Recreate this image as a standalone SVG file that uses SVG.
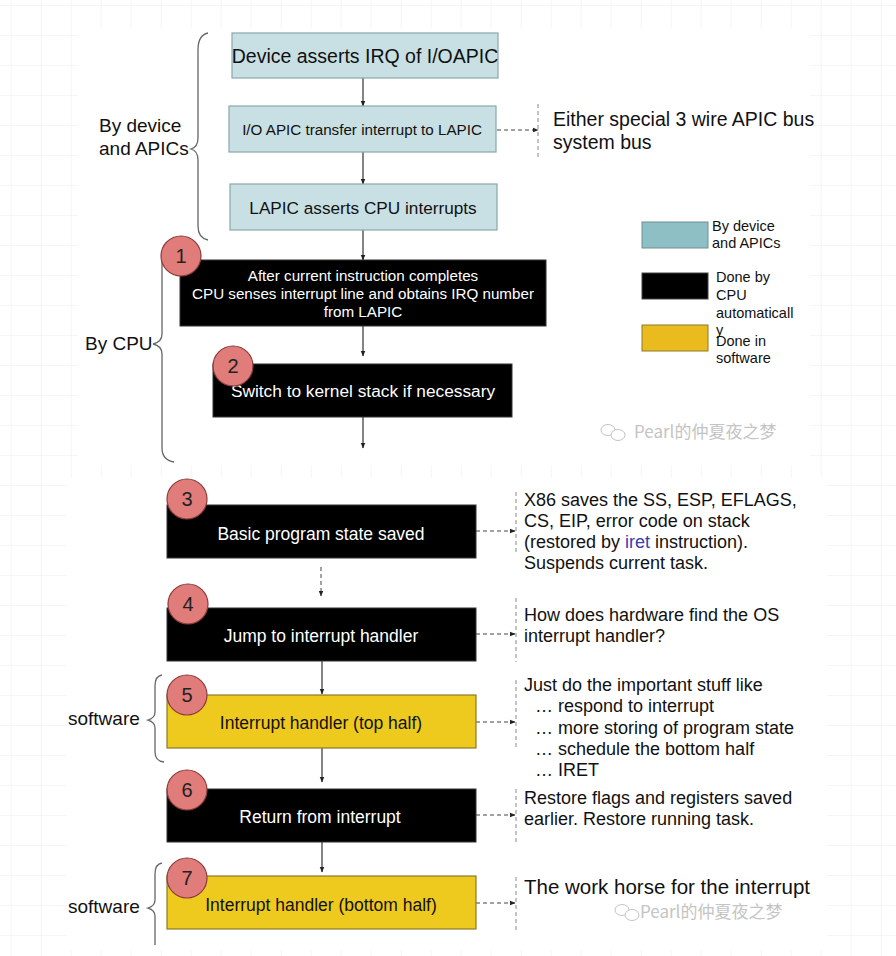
<svg xmlns="http://www.w3.org/2000/svg" width="896" height="956" viewBox="0 0 896 956">
<defs>
<pattern id="grid" x="10.7" y="5" width="30" height="30" patternUnits="userSpaceOnUse">
<path d="M0,0 H30 M0,0 V30" fill="none" stroke="#ebebeb" stroke-width="1"/>
</pattern>
<marker id="ah" viewBox="0 0 10 10" refX="9" refY="5" markerWidth="6" markerHeight="6" orient="auto" markerUnits="userSpaceOnUse">
<path d="M0,1 L10,5 L0,9 z" fill="#222"/>
</marker>
</defs>
<style>
text{font-family:"Liberation Sans",Arial,sans-serif;}
.teal{fill:#c8e0e3;stroke:#8aa7aa;stroke-width:1.2;}
.blk{fill:#000;stroke:#333;stroke-width:1;}
.yel{fill:#eec91e;stroke:#8c7a28;stroke-width:1.2;}
.num{fill:#e07c7a;stroke:#8b3b3b;stroke-width:1.2;}
.numt{font-size:20px;fill:#222;text-anchor:middle;}
.wt{fill:#fff;text-anchor:middle;}
.bt{fill:#111;text-anchor:middle;}
.side{font-size:18px;fill:#111;}
.lbl{font-size:19px;fill:#111;}
.leg{font-size:14.5px;fill:#111;}
.brace{fill:none;stroke:#666;stroke-width:1.3;}
.con{fill:none;stroke:#333;stroke-width:1.2;}
.dash{fill:none;stroke:#444;stroke-width:1;stroke-dasharray:4,3;}
.vdash{fill:none;stroke:#888;stroke-width:1;stroke-dasharray:4,3;}
.wm{font-family:"Noto Sans CJK SC","Liberation Sans",sans-serif;font-size:17px;fill:#c4c4c4;}
</style>
<rect width="896" height="956" fill="#fff"/>
<rect width="896" height="956" fill="url(#grid)"/>
<rect x="78" y="28" width="732" height="437" fill="#fff"/>
<rect x="67" y="478" width="760" height="472" fill="#fff"/>

<g id="braces">
<path class="brace" d="M208,33 Q198,35 198,50 L198,138 Q198,147 191,149 Q198,151 198,160 L198,226 Q198,238 208,240"/>
<path class="brace" d="M172,240 Q162,242 162,256 L162,334 Q162,342 153,344 Q162,346 162,354 L162,448 Q162,460 174,462"/>
<path class="brace" d="M162,675 Q155,676 155,686 L155,712 Q155,718 148,720 Q155,722 155,728 L155,752 Q155,761 164,762"/>
<path class="brace" d="M162,863 Q155,864 155,874 L155,900 Q155,906 148,908 Q155,910 155,916 L155,945"/>
</g>
<g id="group-labels">
<text class="lbl" x="99" y="132">By device</text>
<text class="lbl" x="99" y="155">and APICs</text>
<text class="lbl" x="85" y="350">By CPU</text>
<text class="lbl" x="68" y="725">software</text>
<text class="lbl" x="68" y="913">software</text>
</g>

<g id="connectors">
<line class="con" x1="363" y1="78" x2="363" y2="106" marker-end="url(#ah)"/>
<line class="con" x1="363" y1="152" x2="363" y2="184" marker-end="url(#ah)"/>
<line class="con" x1="363" y1="230" x2="363" y2="260" marker-end="url(#ah)"/>
<line class="con" x1="363" y1="326" x2="363" y2="356" marker-end="url(#ah)"/>
<line class="con" x1="363" y1="417" x2="363" y2="448" marker-end="url(#ah)"/>
<line class="dash" x1="321" y1="567" x2="321" y2="596" marker-end="url(#ah)"/>
<line class="con" x1="322" y1="661" x2="322" y2="694" marker-end="url(#ah)"/>
<line class="con" x1="322" y1="748" x2="322" y2="782" marker-end="url(#ah)"/>
<line class="con" x1="322" y1="842" x2="322" y2="872" marker-end="url(#ah)"/>
<line class="dash" x1="497" y1="130" x2="538" y2="130" marker-end="url(#ah)"/>
<line class="vdash" x1="538" y1="104" x2="538" y2="158"/>
<line class="dash" x1="476" y1="531" x2="515" y2="531" marker-end="url(#ah)"/>
<line class="vdash" x1="516" y1="492" x2="516" y2="555"/>
<line class="dash" x1="476" y1="634" x2="515" y2="634" marker-end="url(#ah)"/>
<line class="vdash" x1="516" y1="598" x2="516" y2="662"/>
<line class="dash" x1="476" y1="722" x2="515" y2="722" marker-end="url(#ah)"/>
<line class="vdash" x1="516" y1="680" x2="516" y2="750"/>
<line class="dash" x1="476" y1="815" x2="515" y2="815" marker-end="url(#ah)"/>
<line class="vdash" x1="516" y1="789" x2="516" y2="845"/>
<line class="dash" x1="476" y1="903" x2="515" y2="903" marker-end="url(#ah)"/>
<line class="vdash" x1="516" y1="877" x2="516" y2="930"/>
</g>

<g id="node-device">
<rect class="teal" x="232" y="33" width="266" height="45"/>
<text class="bt" x="365" y="63" font-size="19.5">Device asserts IRQ of I/OAPIC</text>
</g>
<g id="node-ioapic">
<rect class="teal" x="229" y="106" width="267" height="46"/>
<text class="bt" x="362" y="135" font-size="15.2">I/O APIC transfer interrupt to LAPIC</text>
</g>
<g id="node-lapic">
<rect class="teal" x="230" y="184" width="267" height="46"/>
<text class="bt" x="363" y="214" font-size="17.2">LAPIC asserts CPU interrupts</text>
</g>

<g id="node-1">
<rect class="blk" x="180" y="260" width="366" height="66"/>
<text class="wt" x="363" y="281" font-size="15.2">After current instruction completes</text>
<text class="wt" x="363" y="299" font-size="15.2">CPU senses interrupt line and obtains IRQ number</text>
<text class="wt" x="363" y="317" font-size="15.2">from LAPIC</text>
<circle class="num" cx="181" cy="256" r="20"/>
<text class="numt" x="181" y="263">1</text>
</g>
<g id="node-2">
<rect class="blk" x="213" y="364" width="299" height="53"/>
<text class="wt" x="363" y="397" font-size="17.3">Switch to kernel stack if necessary</text>
<circle class="num" cx="233" cy="366" r="20"/>
<text class="numt" x="233" y="373">2</text>
</g>

<g id="node-3">
<rect class="blk" x="167" y="505" width="309" height="53"/>
<text class="wt" x="321" y="540" font-size="17.5">Basic program state saved</text>
<circle class="num" cx="187" cy="499" r="20"/>
<text class="numt" x="187" y="506">3</text>
</g>
<g id="node-4">
<rect class="blk" x="167" y="608" width="309" height="53"/>
<text class="wt" x="321" y="642" font-size="17.5">Jump to interrupt handler</text>
<circle class="num" cx="188" cy="604" r="20"/>
<text class="numt" x="188" y="611">4</text>
</g>
<g id="node-5">
<rect class="yel" x="167" y="695" width="309" height="53"/>
<text class="bt" x="321" y="729" font-size="17.5">Interrupt handler (top half)</text>
<circle class="num" cx="187" cy="695" r="20"/>
<text class="numt" x="187" y="702">5</text>
</g>
<g id="node-6">
<rect class="blk" x="167" y="789" width="309" height="53"/>
<text class="wt" x="320" y="823" font-size="17.5">Return from interrupt</text>
<circle class="num" cx="187" cy="790" r="20"/>
<text class="numt" x="187" y="797">6</text>
</g>
<g id="node-7">
<rect class="yel" x="167" y="876" width="309" height="53"/>
<text class="bt" x="321" y="911" font-size="17.5">Interrupt handler (bottom half)</text>
<circle class="num" cx="187" cy="878" r="20"/>
<text class="numt" x="187" y="885">7</text>
</g>

<g id="notes">
<text class="lbl" x="553" y="126" style="font-size:19.5px">Either special 3 wire APIC bus</text>
<text class="lbl" x="553" y="149" style="font-size:19.5px">system bus</text>
<text class="side" x="524" y="506">X86 saves the SS, ESP, EFLAGS,</text>
<text class="side" x="524" y="527">CS, EIP, error code on stack</text>
<text class="side" x="524" y="548">(restored by <tspan fill="#3b3bb0">iret</tspan> instruction).</text>
<text class="side" x="524" y="569">Suspends current task.</text>
<text class="side" x="524" y="621">How does hardware find the OS</text>
<text class="side" x="524" y="642">interrupt handler?</text>
<text class="side" x="524" y="691">Just do the important stuff like</text>
<text class="side" x="535" y="712">… respond to interrupt</text>
<text class="side" x="535" y="734">… more storing of program state</text>
<text class="side" x="535" y="755">… schedule the bottom half</text>
<text class="side" x="535" y="776">… IRET</text>
<text class="side" x="524" y="804">Restore flags and registers saved</text>
<text class="side" x="524" y="825">earlier. Restore running task.</text>
<text class="lbl" x="524" y="894" style="font-size:20.5px">The work horse for the interrupt</text>
</g>

<g id="legend">
<rect x="642" y="222" width="66" height="26" fill="#8ebfc4" stroke="#6f9094"/>
<text class="leg" x="712" y="231">By device</text>
<text class="leg" x="712" y="248">and APICs</text>
<rect x="642" y="273" width="66" height="26" fill="#000" stroke="#444"/>
<text class="leg" x="716" y="282">Done by</text>
<text class="leg" x="716" y="300">CPU</text>
<text class="leg" x="716" y="318">automaticall</text>
<text class="leg" x="716" y="335">y</text>
<rect x="642" y="325" width="66" height="26" fill="#eabb1e" stroke="#8c7a28"/>
<text class="leg" x="716" y="346">Done in</text>
<text class="leg" x="716" y="363">software</text>
</g>

<g id="watermarks">
<ellipse cx="608" cy="430" rx="7" ry="5.5" fill="none" stroke="#c4c4c4"/>
<ellipse cx="618" cy="435" rx="7" ry="5.5" fill="#fff" stroke="#c4c4c4"/>
<text class="wm" x="634" y="438">Pearl的仲夏夜之梦</text>
<ellipse cx="622" cy="910" rx="7" ry="5.5" fill="none" stroke="#c4c4c4"/>
<ellipse cx="632" cy="915" rx="7" ry="5.5" fill="#fff" stroke="#c4c4c4"/>
<text class="wm" x="640" y="918">Pearl的仲夏夜之梦</text>
</g>
</svg>
